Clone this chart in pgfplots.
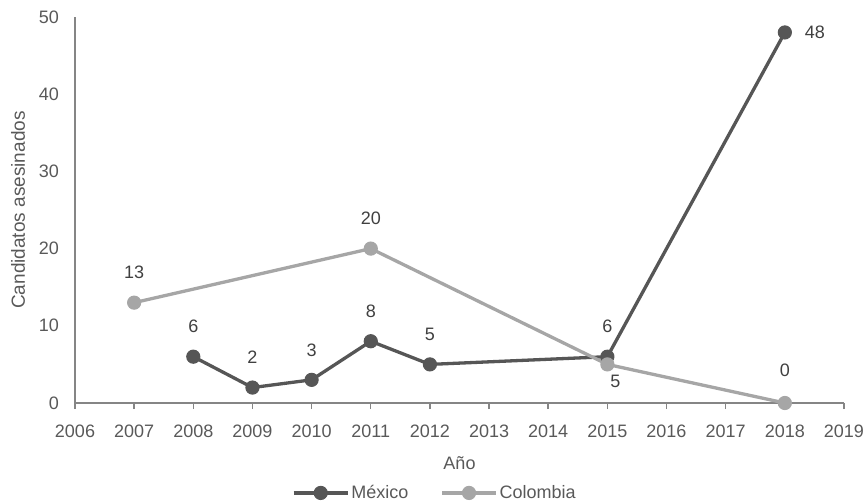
\documentclass[border=0pt]{standalone}
\usepackage{pgfplots}
\pgfplotsset{compat=1.18}
\usepackage{fontspec}
\setmainfont{Liberation Sans}

\definecolor{mex}{HTML}{565656}
\definecolor{col}{HTML}{A6A6A6}
\definecolor{axisgray}{HTML}{858585}
\definecolor{ticktext}{HTML}{595959}
\definecolor{lbltext}{HTML}{404040}

\begin{document}
\fontsize{18bp}{21bp}\selectfont
\begin{tikzpicture}
\begin{axis}[
  at={(0bp,0bp)}, anchor=south west,
  scale only axis, width=769bp, height=386bp,
  xmin=2006, xmax=2019, ymin=0, ymax=50,
  clip=false,
  axis lines*=left,
  axis line style={axisgray, line width=1.5bp},
  xtick={2006,...,2019},
  ytick={0,10,...,50},
  xtick align=outside,
  major tick length=6bp,
  xtick style={axisgray, line width=1.5bp},
  ytick style={draw=none},
  /pgf/number format/assume math mode=true,
  x tick label style={/pgf/number format/1000 sep={}, text=ticktext, yshift=-10bp},
  y tick label style={text=ticktext, xshift=-10bp},
  xlabel={Año},
  ylabel={Candidatos asesinados},
  xlabel style={at={(axis description cs:0.5,-0.155)}, anchor=center, text=ticktext},
  ylabel style={at={(axis description cs:-0.0741,0.5)}, anchor=center, text=ticktext,
    font=\fontsize{19bp}{22bp}\selectfont},
  legend columns=2,
  legend style={at={(axis description cs:0.468,-0.233)}, anchor=center, draw=none,
    fill=none, text=ticktext, /tikz/every even column/.append style={column sep=30bp}},
  legend image code/.code={%
    \draw[mark repeat=2, mark phase=2] plot coordinates {(0bp,0bp) (27bp,0bp) (54bp,0bp)};},
  nodes near coords,
  nodes near coords style={anchor=center, text=lbltext, xshift=\dx bp, yshift=\dy bp},
  visualization depends on={value \thisrow{dx} \as \dx},
  visualization depends on={value \thisrow{dy} \as \dy},
]
% México
\addplot[mex, line width=3.3bp, mark=*, mark size=6.6bp,
  mark options={fill=mex, draw=mex, line width=1bp}]
  table[x=year, y=n] {
  year n  dx dy
  2008 6  0  30
  2009 2  0  30
  2010 3  0  30
  2011 8  0  30
  2012 5  0  30
  2015 6  0  30
  2018 48 30 0
};
\addlegendentry{México}
% Colombia
\addplot[col, line width=3.3bp, mark=*, mark size=6.6bp,
  mark options={fill=col, draw=col, line width=1bp}]
  table[x=year, y=n] {
  year n  dx dy
  2007 13 0  30
  2011 20 0  30
  2015 5  8  -17
  2018 0  0  33
};
\addlegendentry{Colombia}
\end{axis}
\pgfresetboundingbox
\path[use as bounding box] (-75bp,-100bp) rectangle (792bp,403bp);
\end{tikzpicture}
\end{document}
